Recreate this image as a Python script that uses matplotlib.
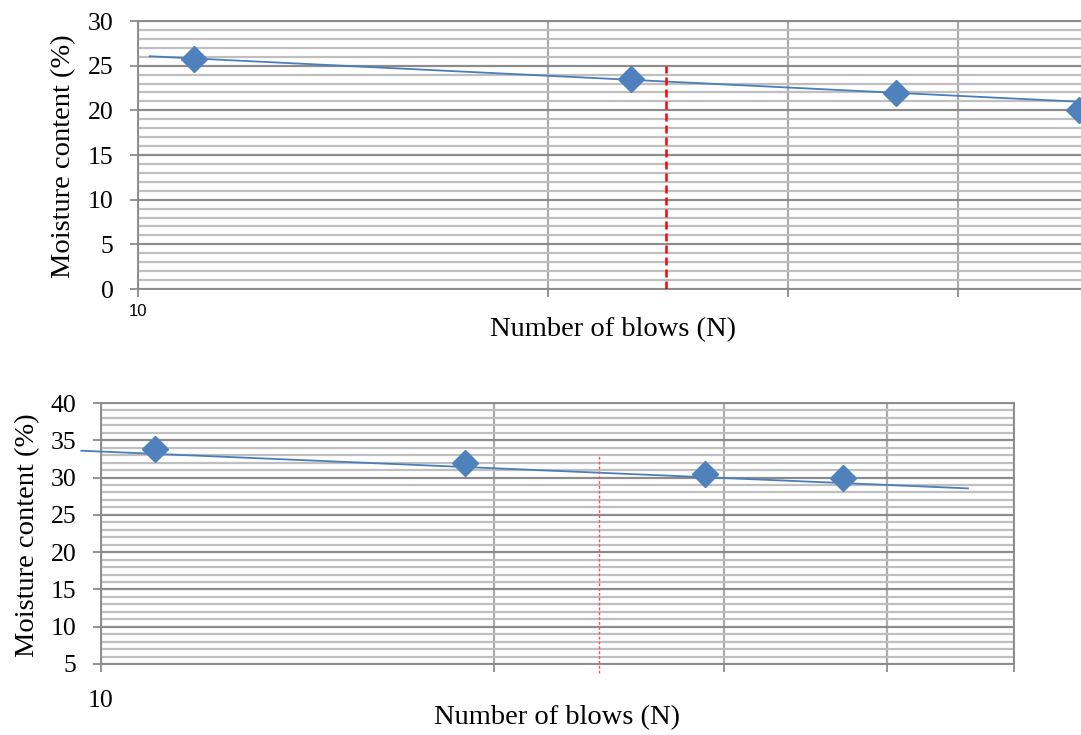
import matplotlib.pyplot as plt
from matplotlib.ticker import FixedLocator, FixedFormatter, MultipleLocator

# Top chart data
top_blows = [11.0, 23.0, 36.0, 49.0]
top_moisture = [25.8, 23.5, 21.9, 20.05]
top_trend_x = [10.2, 49.2]
top_trend_y = [26.05, 20.95]
top_ref_x = 24.4
top_ref_y = [0, 25]

# Bottom chart data
bot_blows = [11.0, 19.0, 29.0, 37.0]
bot_moisture = [33.8, 31.9, 30.5, 29.9]
bot_trend_x = [9.66, 46.1]
bot_trend_y = [33.6, 28.55]
bot_ref_x = 24.06
bot_ref_y = [3.8, 33.0]

blue = "#4F81BD"
major_grid = "#8C8C8C"
minor_grid = "#BFBFBF"
vert_grid = "#ABABAB"
serif = "Liberation Serif"

W, H = 1081, 735
fig = plt.figure(figsize=(W / 100, H / 100), dpi=100)


def px_axes(left, top, right, bottom):
    return fig.add_axes([left / W, 1 - bottom / H, (right - left) / W, (bottom - top) / H])


def style(ax, ymin, ymax, xmax, xticks, xfamily, xsize):
    ax.set_xscale("log")
    ax.set_xlim(10, xmax)
    ax.set_ylim(ymin, ymax)
    ax.xaxis.set_major_locator(FixedLocator(xticks))
    ax.xaxis.set_major_formatter(FixedFormatter(["10"] + [""] * (len(xticks) - 1)))
    ax.xaxis.set_minor_locator(FixedLocator([]))
    ax.yaxis.set_major_locator(MultipleLocator(5))
    ax.yaxis.set_minor_locator(MultipleLocator(1))
    ax.grid(which="minor", axis="y", color=minor_grid, lw=1.6, zorder=0)
    ax.grid(which="major", axis="y", color=major_grid, lw=1.6, zorder=0)
    ax.grid(which="major", axis="x", color=vert_grid, lw=1.6, zorder=0)
    ax.set_axisbelow(True)
    ax.tick_params(which="minor", length=0)
    ax.tick_params(which="major", length=6, width=1.3, color=major_grid)
    ax.tick_params(axis="y", pad=11.5, labelsize=18.5, labelfontfamily=serif)
    ax.tick_params(axis="x", labelsize=xsize, labelfontfamily=xfamily)
    for s in ax.spines.values():
        s.set_color(major_grid)
        s.set_linewidth(1.4)


# ---- top chart ----
ax1 = px_axes(138, 21, 1081, 289)
style(ax1, 0, 30, 49.2, [10, 20, 30, 40], "Liberation Sans", 12)
ax1.tick_params(axis="x", pad=5)
ax1.spines["right"].set_visible(False)
ax1.plot(top_trend_x, top_trend_y, color="#4A7EBB", lw=1.3, zorder=3)
ax1.plot(top_blows, top_moisture, "D", color=blue, ms=13, zorder=4, clip_on=False)
ax1.plot([top_ref_x, top_ref_x], top_ref_y, color="#FF0000", lw=1.8,
         dashes=(3.2, 1.6), zorder=3)

# ---- bottom chart ----
ax2 = px_axes(101, 403, 1014, 664)
style(ax2, 5, 40, 50, [10, 20, 30, 40, 50], serif, 18.5)
ax2.tick_params(axis="x", pad=13)
ax2.plot(bot_trend_x, bot_trend_y, color="#4A7EBB", lw=1.3, zorder=3, clip_on=False)
ax2.plot(bot_blows, bot_moisture, "D", color=blue, ms=13, zorder=4)
ax2.plot([bot_ref_x, bot_ref_x], bot_ref_y, color="#FF5050", lw=1.0,
         dashes=(2, 1.5), zorder=3, clip_on=False)

# axis titles
fig.text(613 / W, 1 - 330 / H, "Number of blows (N)", family=serif, fontsize=20.5,
         ha="center", va="center")
fig.text(557 / W, 1 - 718 / H, "Number of blows (N)", family=serif, fontsize=20.5,
         ha="center", va="center")
fig.text(64 / W, 1 - 156 / H, "Moisture content (%)", family=serif, fontsize=20.5,
         ha="center", va="center", rotation=90)
fig.text(28 / W, 1 - 535 / H, "Moisture content (%)", family=serif, fontsize=20.5,
         ha="center", va="center", rotation=90)

fig.savefig("out.png", dpi=100)
